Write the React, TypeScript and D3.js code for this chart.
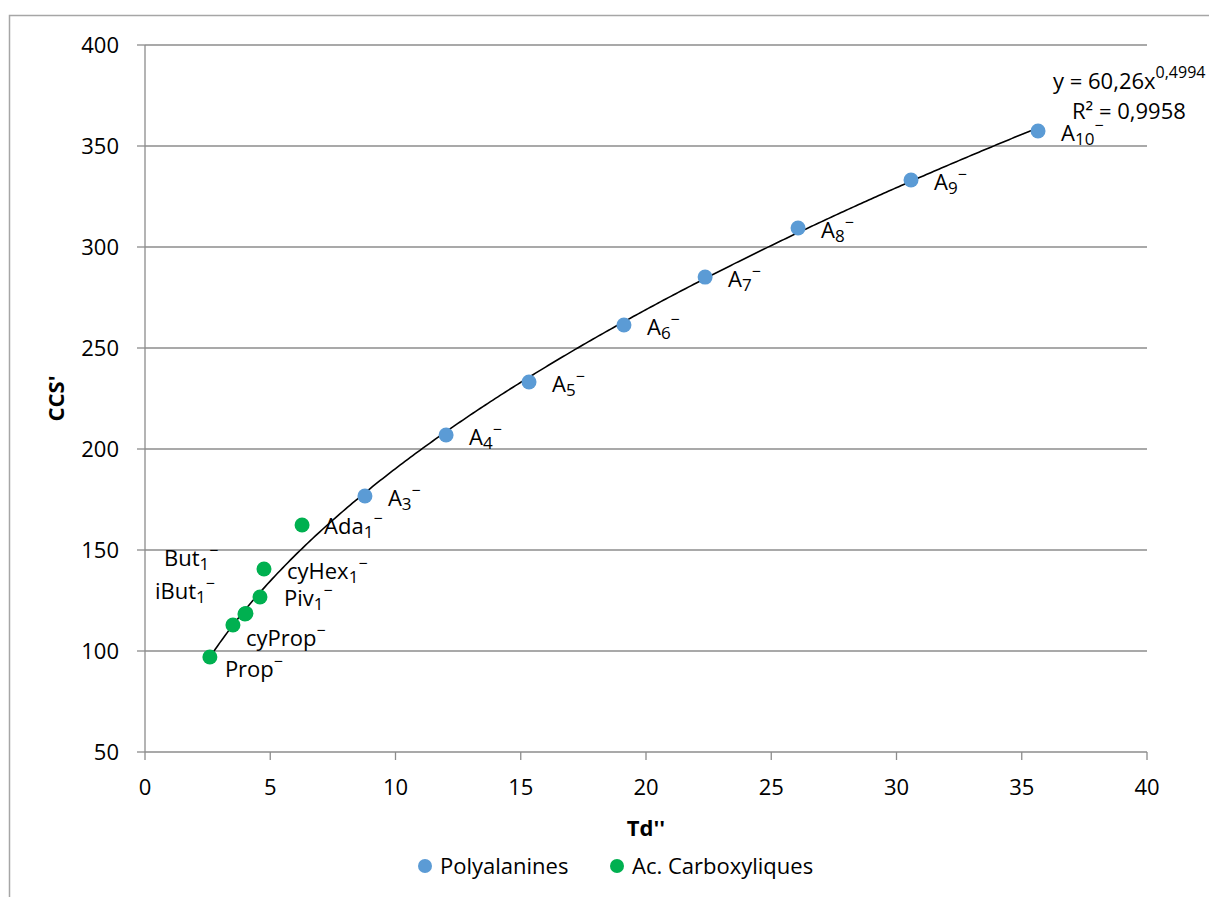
import React, { useEffect, useRef } from 'react'
import * as d3 from 'd3'

// Polyalanines (A_n^-)
const polyNames = ['A3', 'A4', 'A5', 'A6', 'A7', 'A8', 'A9', 'A10']
const polyTd = [8.78, 12.02, 15.33, 19.12, 22.36, 26.07, 30.58, 35.65]
const polyCCS = [176.7, 206.9, 233.2, 261.4, 285.1, 309.4, 333.2, 357.4]

// Ac. Carboxyliques
const acidNames = ['Prop', 'cyProp', 'iBut1', 'But1', 'Piv1', 'cyHex1', 'Ada1']
const acidTd = [2.59, 3.51, 3.99, 4.03, 4.59, 4.75, 6.27]
const acidCCS = [97.0, 112.9, 118.3, 118.6, 126.7, 140.6, 162.4]

const xTicks = [0, 5, 10, 15, 20, 25, 30, 35, 40]
const yTicks = [50, 100, 150, 200, 250, 300, 350, 400]
const legendNames = ['Polyalanines', 'Ac. Carboxyliques']

// power trendline y = a * x^b
const fitA = 60.26
const fitB = 0.4994

const BLUE = '#5B9BD5'
const GREEN = '#00B050'
const FONT = '"Open Sans", sans-serif'

// hand-placed label offsets (px) like in the original sheet
const acidLabelOffset: Record<string, [number, number]> = {
  Prop: [15, 20],
  cyProp: [13, 21],
  iBut1: [-90, -15],
  But1: [-82, -47],
  Piv1: [24, 9],
  cyHex1: [23, 10],
  Ada1: [22, 9],
}

export default function App() {
  const ref = useRef<SVGSVGElement>(null)

  useEffect(() => {
    const svg = d3.select(ref.current)
    svg.selectAll('*').remove()

    const x = d3.scaleLinear().domain([0, 40]).range([145, 1147])
    const y = d3.scaleLinear().domain([50, 400]).range([752, 45])

    // outer chart frame
    svg.append('rect')
      .attr('x', 9.5).attr('y', 15.5)
      .attr('width', 1300).attr('height', 1000)
      .attr('fill', 'white').attr('stroke', '#a6a6a6').attr('stroke-width', 1.5)

    // horizontal gridlines
    svg.append('g').selectAll('line')
      .data(yTicks.slice(1))
      .enter().append('line')
      .attr('x1', x(0)).attr('x2', x(40))
      .attr('y1', d => y(d)).attr('y2', d => y(d))
      .attr('stroke', '#8c8c8c').attr('stroke-width', 1.3)

    // axes
    const ax = svg.append('g').attr('stroke', '#8c8c8c').attr('stroke-width', 1.3)
    ax.append('line').attr('x1', x(0)).attr('x2', x(0)).attr('y1', y(400)).attr('y2', y(50))
    ax.append('line').attr('x1', x(0)).attr('x2', x(40)).attr('y1', y(50)).attr('y2', y(50))
    ax.selectAll('.yt').data(yTicks).enter().append('line')
      .attr('x1', x(0) - 8).attr('x2', x(0))
      .attr('y1', d => y(d)).attr('y2', d => y(d))
    ax.selectAll('.xt').data(xTicks).enter().append('line')
      .attr('x1', d => x(d)).attr('x2', d => x(d))
      .attr('y1', y(50)).attr('y2', y(50) + 8)

    // tick labels
    svg.append('g').selectAll('text')
      .data(yTicks).enter().append('text')
      .attr('x', x(0) - 26).attr('y', d => y(d) + 8)
      .attr('text-anchor', 'end')
      .style('font-family', FONT).style('font-size', '22px').attr('fill', '#000')
      .text(d => d)
    svg.append('g').selectAll('text')
      .data(xTicks).enter().append('text')
      .attr('x', d => x(d)).attr('y', y(50) + 43)
      .attr('text-anchor', 'middle')
      .style('font-family', FONT).style('font-size', '22px').attr('fill', '#000')
      .text(d => d)

    // axis titles
    svg.append('text')
      .attr('transform', 'translate(64,' + ((y(400) + y(50)) / 2) + ') rotate(-90)')
      .attr('text-anchor', 'middle')
      .style('font-family', FONT).style('font-size', '22px').style('font-weight', 'bold')
      .text("CCS'")
    svg.append('text')
      .attr('x', (x(0) + x(40)) / 2).attr('y', 836)
      .attr('text-anchor', 'middle')
      .style('font-family', FONT).style('font-size', '22px').style('font-weight', 'bold')
      .text("Td''")

    // trendline
    const curveX = d3.range(acidTd[0], polyTd[polyTd.length - 1] + 0.001, 0.1)
    const line = d3.line<number>().x(d => x(d)).y(d => y(fitA * Math.pow(d, fitB)))
    svg.append('path')
      .datum(curveX)
      .attr('d', line)
      .attr('fill', 'none').attr('stroke', 'black').attr('stroke-width', 1.6)

    // label helper: base + subscript + superscript minus
    const addLabel = (g: any, px: number, py: number, name: string) => {
      const m = name.match(/^(.*?)(\d*)$/)
      const base = m ? m[1] : name
      const sub = m ? m[2] : ''
      const t = g.append('text')
        .attr('x', px).attr('y', py)
        .style('font-family', FONT).style('font-size', '22px').attr('fill', '#000')
      t.append('tspan').text(base)
      if (sub) {
        t.append('tspan').attr('dy', 4).style('font-size', '17px').text(sub)
        t.append('tspan').attr('dy', -14).style('font-size', '16px').text('\u2212')
      } else {
        t.append('tspan').attr('dy', -10).style('font-size', '16px').text('\u2212')
      }
    }

    // polyalanines
    const gp = svg.append('g')
    polyTd.forEach((td, i) => {
      gp.append('circle').attr('cx', x(td)).attr('cy', y(polyCCS[i])).attr('r', 7.5).attr('fill', BLUE)
      addLabel(gp, x(td) + 23, y(polyCCS[i]) + 10, polyNames[i])
    })

    // carboxylic acids
    const ga = svg.append('g')
    acidTd.forEach((td, i) => {
      ga.append('circle').attr('cx', x(td)).attr('cy', y(acidCCS[i])).attr('r', 7.5).attr('fill', GREEN)
    })
    acidTd.forEach((td, i) => {
      const off = acidLabelOffset[acidNames[i]]
      addLabel(ga, x(td) + off[0], y(acidCCS[i]) + off[1], acidNames[i])
    })

    // equation
    const eq = svg.append('text').attr('x', 1053).attr('y', 89)
      .style('font-family', FONT).style('font-size', '22px')
    eq.append('tspan').text('y = ' + String(fitA).replace('.', ',') + 'x')
    eq.append('tspan').attr('dy', -11).style('font-size', '16px').text(String(fitB).replace('.', ','))
    svg.append('text').attr('x', 1072).attr('y', 119)
      .style('font-family', FONT).style('font-size', '22px')
      .text('R\u00b2 = 0,9958')

    // legend
    const legColors = [BLUE, GREEN]
    const legX = [425, 617]
    legendNames.forEach((n, i) => {
      svg.append('circle').attr('cx', legX[i]).attr('cy', 866).attr('r', 7).attr('fill', legColors[i])
      svg.append('text').attr('x', legX[i] + 15).attr('y', 874)
        .style('font-family', FONT).style('font-size', '22px')
        .text(n)
    })
  }, [])

  return (
    <svg ref={ref} width={1209} height={897}
      style={{ position: 'absolute', left: 0, top: 0, background: 'white' }} />
  )
}
